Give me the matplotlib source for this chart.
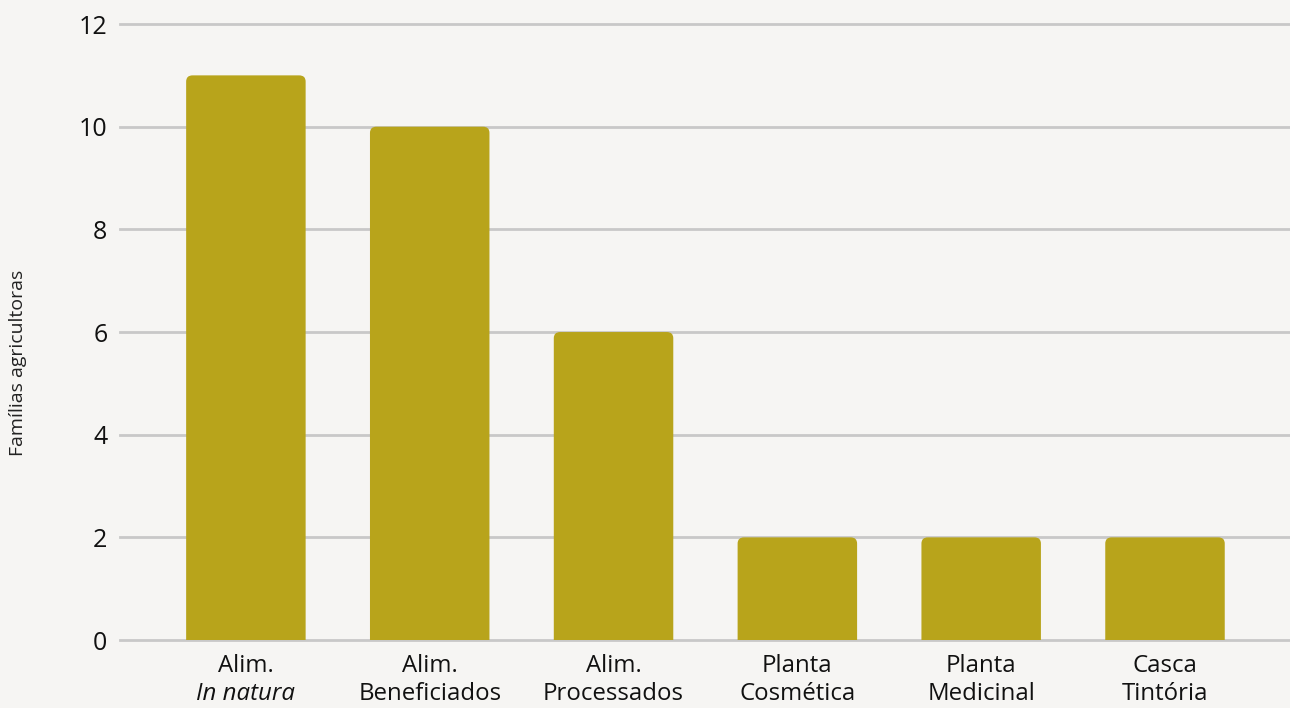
import matplotlib
matplotlib.use("Agg")
import matplotlib.pyplot as plt
from matplotlib.patches import FancyBboxPatch
from matplotlib.transforms import blended_transform_factory, offset_copy

# data
line1 = ["Alim.", "Alim.", "Alim.", "Planta", "Planta", "Casca"]
line2 = ["In natura", "Beneficiados", "Processados", "Cosmética", "Medicinal", "Tintória"]
line2_italic = [True, False, False, False, False, False]
values = [11, 10, 6, 2, 2, 2]
yticks = [0, 2, 4, 6, 8, 10, 12]

bg = "#f6f5f3"
bar_color = "#b8a41b"
grid_color = "#c8c8c8"

plt.rcParams['font.family'] = ['Open Sans', 'DejaVu Sans']

fig = plt.figure(figsize=(12.9, 7.08), dpi=100, facecolor=bg)
ax = fig.add_axes([0.093, 0.096, 0.907, 0.8715], facecolor=bg)

xpos = list(range(len(values)))
width = 0.65
rx = 0.035
ry = 0.12
for x, v in zip(xpos, values):
    # rounded box that starts below zero, so the axes clip away the bottom corners
    ax.add_patch(FancyBboxPatch((x - width / 2, -1), width, v + 1,
                                boxstyle=f"round,pad=0,rounding_size={rx}",
                                mutation_aspect=ry / rx,
                                facecolor=bar_color, edgecolor="none", zorder=3))

ax.set_xlim(-0.685, 5.68)
ax.set_ylim(0, 12.02)
ax.set_yticks(yticks)
ax.set_yticklabels([str(t) for t in yticks], fontsize=18, color="#111111")
ax.yaxis.grid(True, color=grid_color, linewidth=2)
for gl in ax.get_ygridlines():
    gl.set_clip_on(False)
ax.set_axisbelow(True)
ax.tick_params(axis="y", length=0, pad=9)
ax.set_xticks([])
for s in ax.spines.values():
    s.set_visible(False)

trans = blended_transform_factory(ax.transData, ax.transAxes)
for x, a, b, it in zip(xpos, line1, line2, line2_italic):
    ax.text(x, 0, a, transform=offset_copy(trans, fig=fig, y=-19, units="points"),
            ha="center", va="center", fontsize=17.3, color="#111111")
    ax.text(x, 0, b, transform=offset_copy(trans, fig=fig, y=-38.5, units="points"),
            ha="center", va="center", fontsize=17.3, color="#111111",
            style="italic" if it else "normal")

fig.text(18 / 1290, 1 - 363 / 708, "Famílias agricultoras", rotation=90,
         ha="center", va="center", fontsize=14, color="#222222")

fig.savefig("out.png", dpi=100, facecolor=bg)
